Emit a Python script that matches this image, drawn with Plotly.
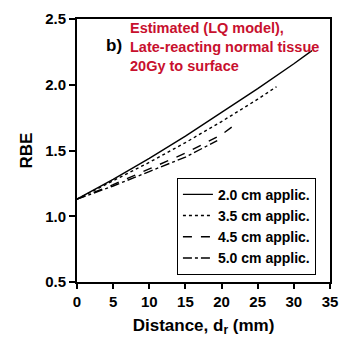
import plotly.graph_objects as go

# Data
x_20 = [0, 5, 10, 15, 20, 25, 30, 32.5]
rbe_20 = [1.13, 1.28, 1.44, 1.61, 1.79, 1.97, 2.16, 2.26]
x_35 = [0, 5, 10, 15, 20, 25, 27.6]
rbe_35 = [1.13, 1.27, 1.41, 1.56, 1.72, 1.89, 1.985]
x_45 = [0, 5, 10, 15, 20, 21.7]
rbe_45 = [1.13, 1.24, 1.36, 1.48, 1.62, 1.69]
x_50 = [0, 5, 10, 15, 19.4]
rbe_50 = [1.13, 1.23, 1.34, 1.45, 1.575]

names = ["2.0 cm applic.", "3.5 cm applic.", "4.5 cm applic.", "5.0 cm applic."]
dashes = ["solid", "dot", "dash", "dashdot"]
xs = [x_20, x_35, x_45, x_50]
ys = [rbe_20, rbe_35, rbe_45, rbe_50]

fig = go.Figure()
for x, y, n, d in zip(xs, ys, names, dashes):
    fig.add_trace(go.Scatter(x=x, y=y, mode="lines", name=n,
                             line=dict(color="black", width=1.4, dash=d)))

FAM = "Liberation Sans, Arial, sans-serif"

fig.update_layout(
    width=348, height=346,
    margin=dict(l=77, r=10, t=18, b=64),
    paper_bgcolor="white", plot_bgcolor="white",
    font=dict(family=FAM, color="black", size=15),
    showlegend=True,
    legend=dict(x=0.395, y=0.212, xanchor="left", yanchor="middle",
                bordercolor="black", borderwidth=1, bgcolor="white",
                font=dict(family=FAM, color="black", size=14, weight="bold"),
                tracegroupgap=0, itemwidth=30),
    xaxis=dict(range=[0, 35], dtick=5, showgrid=False, zeroline=False,
               showline=True, linecolor="black", linewidth=2, mirror=True,
               ticks="outside", ticklen=5, tickwidth=2, tickcolor="black",
               tickfont=dict(family=FAM, color="black", size=15, weight="bold"),
               title=dict(text="Distance, d<sub>r</sub> (mm)",
                          font=dict(family=FAM, color="black", size=17, weight="bold"),
                          standoff=10)),
    yaxis=dict(range=[0.5, 2.5], dtick=0.5, tickformat=".1f", showgrid=False,
               zeroline=False, showline=True, linecolor="black", linewidth=2,
               mirror=True, ticks="outside", ticklen=6, tickwidth=2, tickcolor="black",
               tickfont=dict(family=FAM, color="black", size=15, weight="bold"),
               title=dict(text="RBE",
                          font=dict(family=FAM, color="black", size=17, weight="bold"),
                          standoff=8)),
    annotations=[
        dict(x=0.2, y=0.895, xref="paper", yref="paper", xanchor="left", yanchor="middle",
             text="Estimated (LQ model),<br>Late-reacting normal tissue<br>20Gy to surface",
             showarrow=False, align="left",
             font=dict(family=FAM, size=14.5, color="#c8102e", weight="bold")),
        dict(x=0.105, y=0.90, xref="paper", yref="paper", xanchor="left", yanchor="middle",
             text="b)", showarrow=False,
             font=dict(family=FAM, color="black", size=17, weight="bold")),
    ],
)

fig.write_html("out.html")
